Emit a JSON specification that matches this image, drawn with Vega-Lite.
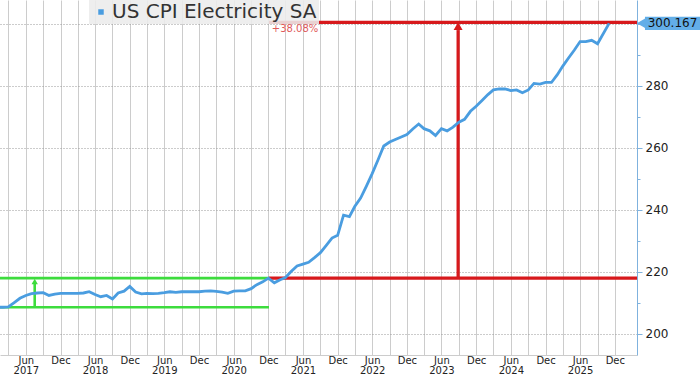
{
  "$schema": "https://vega.github.io/schema/vega-lite/v6.json",
  "width": 637,
  "height": 355,
  "autosize": {"type": "none"},
  "padding": {"left": 0, "top": 0, "right": 63, "bottom": 20},
  "background": "white",
  "config": {"view": {"stroke": null}, "font": "DejaVu Sans"},
  "datasets": {
    "cpi": [
      {"date": "2017-01-01", "v": 208.6}, {"date": "2017-02-01", "v": 208.6}, {"date": "2017-03-01", "v": 208.7}, {"date": "2017-04-01", "v": 210.1},
      {"date": "2017-05-01", "v": 211.5}, {"date": "2017-06-01", "v": 212.4}, {"date": "2017-07-01", "v": 213.0}, {"date": "2017-08-01", "v": 213.2},
      {"date": "2017-09-01", "v": 213.3}, {"date": "2017-10-01", "v": 212.4}, {"date": "2017-11-01", "v": 212.8}, {"date": "2017-12-01", "v": 213.1},
      {"date": "2018-01-01", "v": 213.1}, {"date": "2018-02-01", "v": 213.1}, {"date": "2018-03-01", "v": 213.1}, {"date": "2018-04-01", "v": 213.2},
      {"date": "2018-05-01", "v": 213.6}, {"date": "2018-06-01", "v": 212.7}, {"date": "2018-07-01", "v": 212.0}, {"date": "2018-08-01", "v": 212.4},
      {"date": "2018-09-01", "v": 211.3}, {"date": "2018-10-01", "v": 213.2}, {"date": "2018-11-01", "v": 213.8}, {"date": "2018-12-01", "v": 215.3},
      {"date": "2019-01-01", "v": 213.5}, {"date": "2019-02-01", "v": 212.9}, {"date": "2019-03-01", "v": 213.1}, {"date": "2019-04-01", "v": 213.0},
      {"date": "2019-05-01", "v": 213.1}, {"date": "2019-06-01", "v": 213.3}, {"date": "2019-07-01", "v": 213.6}, {"date": "2019-08-01", "v": 213.4},
      {"date": "2019-09-01", "v": 213.6}, {"date": "2019-10-01", "v": 213.6}, {"date": "2019-11-01", "v": 213.6}, {"date": "2019-12-01", "v": 213.6},
      {"date": "2020-01-01", "v": 213.8}, {"date": "2020-02-01", "v": 213.9}, {"date": "2020-03-01", "v": 213.7}, {"date": "2020-04-01", "v": 213.5},
      {"date": "2020-05-01", "v": 213.1}, {"date": "2020-06-01", "v": 213.8}, {"date": "2020-07-01", "v": 213.9}, {"date": "2020-08-01", "v": 213.9},
      {"date": "2020-09-01", "v": 214.6}, {"date": "2020-10-01", "v": 215.9}, {"date": "2020-11-01", "v": 216.8}, {"date": "2020-12-01", "v": 218.0},
      {"date": "2021-01-01", "v": 216.5}, {"date": "2021-02-01", "v": 217.5}, {"date": "2021-03-01", "v": 218.2}, {"date": "2021-04-01", "v": 220.2},
      {"date": "2021-05-01", "v": 221.9}, {"date": "2021-06-01", "v": 222.5}, {"date": "2021-07-01", "v": 223.1}, {"date": "2021-08-01", "v": 224.6},
      {"date": "2021-09-01", "v": 226.2}, {"date": "2021-10-01", "v": 228.5}, {"date": "2021-11-01", "v": 230.9}, {"date": "2021-12-01", "v": 231.8},
      {"date": "2022-01-01", "v": 238.3}, {"date": "2022-02-01", "v": 237.8}, {"date": "2022-03-01", "v": 241.1}, {"date": "2022-04-01", "v": 243.8},
      {"date": "2022-05-01", "v": 247.6}, {"date": "2022-06-01", "v": 251.7}, {"date": "2022-07-01", "v": 256.0}, {"date": "2022-08-01", "v": 260.6},
      {"date": "2022-09-01", "v": 261.9}, {"date": "2022-10-01", "v": 262.7}, {"date": "2022-11-01", "v": 263.5}, {"date": "2022-12-01", "v": 264.3},
      {"date": "2023-01-01", "v": 266.1}, {"date": "2023-02-01", "v": 267.7}, {"date": "2023-03-01", "v": 266.2}, {"date": "2023-04-01", "v": 265.5},
      {"date": "2023-05-01", "v": 264.0}, {"date": "2023-06-01", "v": 266.2}, {"date": "2023-07-01", "v": 265.5}, {"date": "2023-08-01", "v": 266.7},
      {"date": "2023-09-01", "v": 268.3}, {"date": "2023-10-01", "v": 269.2}, {"date": "2023-11-01", "v": 271.8}, {"date": "2023-12-01", "v": 273.4},
      {"date": "2024-01-01", "v": 275.3}, {"date": "2024-02-01", "v": 277.2}, {"date": "2024-03-01", "v": 278.7}, {"date": "2024-04-01", "v": 279.0},
      {"date": "2024-05-01", "v": 279.0}, {"date": "2024-06-01", "v": 278.5}, {"date": "2024-07-01", "v": 278.7}, {"date": "2024-08-01", "v": 277.8},
      {"date": "2024-09-01", "v": 278.7}, {"date": "2024-10-01", "v": 280.8}, {"date": "2024-11-01", "v": 280.6}, {"date": "2024-12-01", "v": 281.1},
      {"date": "2025-01-01", "v": 281.1}, {"date": "2025-02-01", "v": 283.6}, {"date": "2025-03-01", "v": 286.3}, {"date": "2025-04-01", "v": 289.0},
      {"date": "2025-05-01", "v": 291.5}, {"date": "2025-06-01", "v": 294.3}, {"date": "2025-07-01", "v": 294.3}, {"date": "2025-08-01", "v": 294.7},
      {"date": "2025-09-01", "v": 293.6}, {"date": "2025-11-01", "v": 300.167}
    ],
    "segments": [
      {"grp": "range", "x1": "2016-12-20", "x2": "2020-12-04", "y1": 208.6, "y2": 208.6},
      {"grp": "range", "x1": "2016-12-20", "x2": "2020-12-04", "y1": 218.0, "y2": 218.0},
      {"grp": "range", "x1": "2017-07-18", "x2": "2017-07-18", "y1": 208.6, "y2": 216.2},
      {"grp": "rise", "x1": "2020-12-04", "x2": "2026-03-28", "y1": 218.0, "y2": 218.0},
      {"grp": "rise", "x1": "2020-12-04", "x2": "2026-03-28", "y1": 300.5, "y2": 300.5},
      {"grp": "rise", "x1": "2023-08-28", "x2": "2023-08-28", "y1": 218.0, "y2": 298.0}
    ],
    "heads": [
      {"grp": "range", "x": "2017-07-18", "y": 216.9},
      {"grp": "rise", "x": "2023-08-28", "y": 299.3}
    ],
    "notes": [
      {"x": "2020-12-19", "y": 298.4, "label": "+38.08%"}
    ],
    "callout": [
      {"tip": "2026-04-18", "x1": "2026-05-09", "x2": "2027-06-01", "xt": "2026-10-01", "ylo": 298.0, "yhi": 302.3, "value": 300.167}
    ]
  },
  "layer": [
    {
      "data": {"name": "segments"},
      "transform": [{"filter": "datum.grp == 'range'"}],
      "mark": {"type": "rule", "color": "#3ddc3d", "strokeWidth": 2.6},
      "encoding": {
        "x": {"field": "x1", "type": "temporal", "title": null,
          "scale": {"type": "utc", "domain": [1484524800000, 1774656000000]},
          "axis": {
            "orient": "bottom",
            "tickCount": 40,
            "values": [
              1480550400000,
              1488326400000, 1496275200000, 1504224000000, 1512086400000,
              1519862400000, 1527811200000, 1535760000000, 1543622400000,
              1551398400000, 1559347200000, 1567296000000, 1575158400000,
              1583020800000, 1590969600000, 1598918400000, 1606780800000,
              1614556800000, 1622505600000, 1630454400000, 1638316800000,
              1646092800000, 1654041600000, 1661990400000, 1669852800000,
              1677628800000, 1685577600000, 1693526400000, 1701388800000,
              1709251200000, 1717200000000, 1725148800000, 1733011200000,
              1740787200000, 1748736000000, 1756684800000, 1764547200000
            ],
            "labelExpr": "utcmonth(datum.value) == 5 ? ['Jun', '' + utcyear(datum.value)] : (utcmonth(datum.value) == 11 ? 'Dec' : '')",
            "grid": true, "gridColor": "#cccccc", "gridWidth": 1,
            "ticks": false, "domain": true, "domainColor": "#cccccc",
            "labelFont": "DejaVu Sans", "labelFontSize": 10, "labelColor": "#222222",
            "labelPadding": 0, "labelLineHeight": 10, "labelBaseline": "top",
            "labelFlush": false, "labelOverlap": false, "labelBound": false
          }
        },
        "x2": {"field": "x2"},
        "y": {"field": "y1", "type": "quantitative", "title": null,
          "scale": {"domain": [193.2, 307.7], "zero": false, "nice": false},
          "axis": {
            "orient": "right",
            "tickCount": 12,
            "format": "d",
            "values": [200, 210, 220, 230, 240, 250, 260, 270, 280, 290, 300],
            "labelExpr": "(datum.value % 20 == 0 && datum.value < 300) ? datum.label : ''",
            "grid": true, "gridColor": "#999999", "gridDash": [1, 2],
            "gridOpacity": {"condition": {"test": "datum.value % 20 != 0", "value": 0}, "value": 1},
            "tickSize": {"condition": {"test": "datum.value % 20 != 0", "value": 3}, "value": 5},
            "tickColor": "#7fb2de", "domainColor": "#7fb2de",
            "labelFont": "DejaVu Sans", "labelFontSize": 12, "labelColor": "#222222", "labelPadding": 3,
            "labelOverlap": false
          }
        },
        "y2": {"field": "y2"}
      }
    },
    {
      "data": {"name": "segments"},
      "transform": [{"filter": "datum.grp == 'rise'"}],
      "mark": {"type": "rule", "color": "#d7191c", "strokeWidth": 3.2},
      "encoding": {
        "x": {"field": "x1", "type": "temporal", "title": null},
        "x2": {"field": "x2"},
        "y": {"field": "y1", "type": "quantitative", "title": null},
        "y2": {"field": "y2"}
      }
    },
    {
      "data": {"name": "cpi"},
      "mark": {"type": "line", "strokeWidth": 2.8, "clip": true},
      "encoding": {
        "x": {"field": "date", "type": "temporal", "title": null},
        "y": {"field": "v", "type": "quantitative", "title": null},
        "color": {"datum": "US CPI Electricity SA",
          "scale": {"range": ["#4a9de0"]},
          "legend": {
            "orient": "none", "legendX": 89, "legendY": 0, "title": null,
            "symbolType": "square", "symbolSize": 30,
            "symbolFillColor": "#4a9de0", "symbolStrokeColor": "#4a9de0", "symbolStrokeWidth": 0,
            "labelFont": "DejaVu Sans", "labelFontSize": 20, "labelColor": "#333333", "labelOffset": 1, "labelLimit": 400,
            "fillColor": "rgba(236,236,236,0.88)", "padding": 2
          }
        }
      }
    },
    {
      "data": {"name": "heads"},
      "transform": [{"filter": "datum.grp == 'range'"}],
      "mark": {"type": "point", "shape": "triangle-up", "filled": true, "color": "#3ddc3d", "size": 40, "opacity": 1},
      "encoding": {
        "x": {"field": "x", "type": "temporal", "title": null},
        "y": {"field": "y", "type": "quantitative", "title": null}
      }
    },
    {
      "data": {"name": "heads"},
      "transform": [{"filter": "datum.grp == 'rise'"}],
      "mark": {"type": "point", "shape": "triangle-up", "filled": true, "color": "#d7191c", "size": 80, "opacity": 1},
      "encoding": {
        "x": {"field": "x", "type": "temporal", "title": null},
        "y": {"field": "y", "type": "quantitative", "title": null}
      }
    },
    {
      "data": {"name": "notes"},
      "mark": {"type": "text", "align": "left", "baseline": "middle", "color": "#e05a5a", "fontSize": 10, "font": "DejaVu Sans"},
      "encoding": {
        "x": {"field": "x", "type": "temporal", "title": null},
        "y": {"field": "y", "type": "quantitative", "title": null},
        "text": {"field": "label"}
      }
    },
    {
      "data": {"name": "callout"},
      "mark": {"type": "rect", "color": "#63aee8"},
      "encoding": {
        "x": {"field": "x1", "type": "temporal", "title": null},
        "x2": {"field": "x2"},
        "y": {"field": "ylo", "type": "quantitative", "title": null},
        "y2": {"field": "yhi"}
      }
    },
    {
      "data": {"name": "callout"},
      "mark": {"type": "point", "shape": "triangle-left", "filled": true, "color": "#63aee8", "size": 90, "opacity": 1},
      "encoding": {
        "x": {"field": "tip", "type": "temporal", "title": null},
        "y": {"field": "value", "type": "quantitative", "title": null}
      }
    },
    {
      "data": {"name": "callout"},
      "mark": {"type": "text", "align": "center", "baseline": "middle", "color": "#111111", "fontSize": 12, "font": "DejaVu Sans"},
      "encoding": {
        "x": {"field": "xt", "type": "temporal", "title": null},
        "y": {"field": "value", "type": "quantitative", "title": null},
        "text": {"field": "value", "type": "quantitative", "format": ".3f"}
      }
    }
  ]
}
